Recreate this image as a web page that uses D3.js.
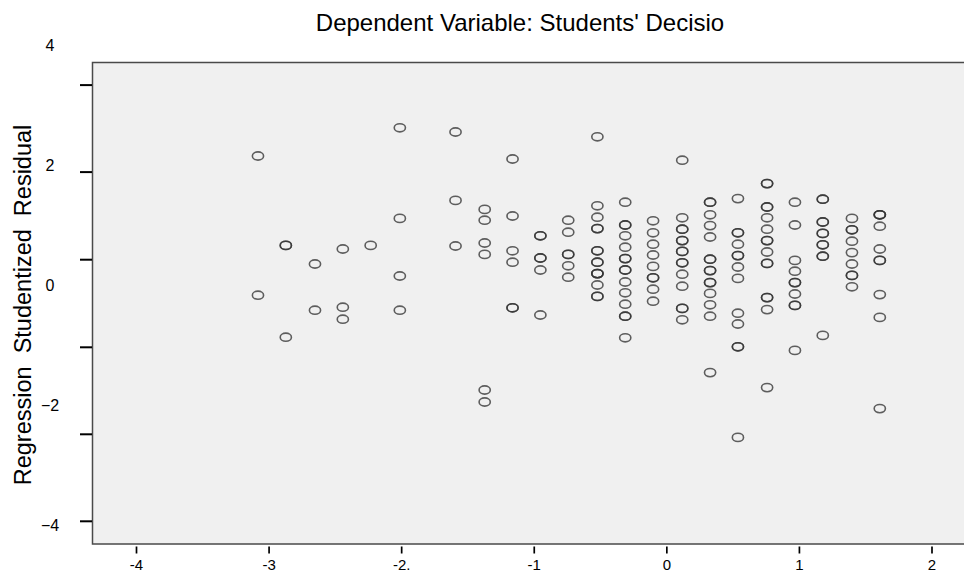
<!DOCTYPE html>
<html>
<head>
<meta charset="utf-8">
<script src="https://cdn.jsdelivr.net/npm/d3@7"></script>
<style>
  body { margin: 0; background: #fff; }
  text { font-family: "Liberation Sans", Arial, sans-serif; fill: #000; }
</style>
</head>
<body>
<div id="graph"></div>
<script>
// predicted value of each column of residuals (x)
const predicted = [-3.08, -2.87, -2.65, -2.44, -2.23, -2.01, -1.59, -1.37, -1.16, -0.95,
  -0.74, -0.52, -0.31, -0.10, 0.12, 0.33, 0.54, 0.76, 0.97, 1.18, 1.40, 1.61];

// studentized residuals per column (repeats = overlapping cases)
const residuals = [
  [2.15, -0.17],
  [0.66, 0.66, -0.87],
  [0.35, -0.42],
  [0.60, -0.37, -0.57],
  [0.66],
  [2.62, 1.11, 0.15, -0.42],
  [2.55, 1.41, 0.65],
  [1.26, 1.08, 0.70, 0.51, -1.75, -1.95],
  [2.10, 1.15, 0.57, 0.38, -0.38, -0.38],
  [0.82, 0.82, 0.45, 0.45, 0.25, -0.50],
  [1.08, 0.88, 0.51, 0.51, 0.32, 0.13],
  [2.47, 1.32, 1.13, 0.94, 0.94, 0.57, 0.57, 0.38, 0.38, 0.19, 0.19, 0.19, 0.00, -0.19, -0.19],
  [1.38, 1.00, 1.00, 0.82, 0.63, 0.44, 0.44, 0.25, 0.25, 0.05, -0.13, -0.32, -0.52, -0.52, -0.88],
  [1.07, 0.87, 0.68, 0.50, 0.31, 0.12, 0.12, -0.07, -0.27],
  [2.08, 1.12, 0.93, 0.93, 0.74, 0.74, 0.56, 0.56, 0.37, 0.37, 0.18, -0.02, -0.39, -0.39, -0.58],
  [1.38, 1.38, 1.17, 0.99, 0.80, 0.43, 0.43, 0.24, 0.24, 0.04, 0.04, -0.14, -0.33, -0.52, -1.46],
  [1.44, 0.87, 0.87, 0.68, 0.49, 0.49, 0.30, 0.11, -0.47, -0.65, -1.03, -1.03, -2.54],
  [1.69, 1.69, 1.30, 1.30, 1.12, 0.93, 0.74, 0.74, 0.55, 0.36, 0.36, -0.21, -0.21, -0.41, -1.71],
  [1.38, 1.00, 0.41, 0.23, 0.04, 0.04, -0.15, -0.34, -0.34, -1.09],
  [1.43, 1.43, 1.05, 1.05, 0.86, 0.86, 0.67, 0.67, 0.48, 0.48, -0.84],
  [1.11, 0.92, 0.92, 0.73, 0.54, 0.35, 0.16, 0.16, -0.03],
  [1.17, 1.17, 1.17, 0.98, 0.60, 0.41, 0.41, -0.16, -0.54, -2.06]
];

const xTicks = [-4, -3, -2, -1, 0, 1, 2];
const xTickLabels = ["-4", "-3", "-2.", "-1", "0", "1", "2"];
const yTicks = [4, 2, 0, -2, -4];
const yTickMarks = [3.34, 1.89, 0.43, -1.03, -2.48, -3.93];

const title = "Dependent Variable: Students' Decisio";
const yTitle = "Regression\u00a0 Studentized\u00a0 Residual";

// set the dimensions of the page and the plot panel
const W = 964, H = 575;
const panel = {left: 92.5, top: 62.5, bottom: 544};

const svg = d3.select("#graph")
  .append("svg")
    .attr("width", W)
    .attr("height", H);

svg.append("rect")
  .attr("width", W).attr("height", H)
  .attr("fill", "#fff");

// grey panel, open on the right side
svg.append("rect")
  .attr("x", panel.left)
  .attr("y", panel.top)
  .attr("width", W)
  .attr("height", panel.bottom - panel.top)
  .attr("fill", "#f0f0f0")
  .attr("stroke", "#4a4a4a")
  .attr("stroke-width", 1.5);

// scales
const x = d3.scaleLinear()
  .domain([-4, 2])
  .range([136, 931.5]);

const y = d3.scaleLinear()
  .domain([-4, 4])
  .range([525, 45]);

// X axis
const xAxis = svg.append("g")
  .attr("transform", `translate(0,${panel.bottom + 2.5})`)
  .call(d3.axisBottom(x)
    .tickValues(xTicks)
    .tickSize(7)
    .tickPadding(6)
    .tickFormat((d, i) => xTickLabels[i]));
xAxis.select(".domain").remove();
xAxis.selectAll("line").attr("stroke", "#000").attr("stroke-width", 1.7);
xAxis.selectAll("text").style("font-size", "15px").attr("font-family", null);

// Y axis tick marks
const yAxisMarks = svg.append("g")
  .attr("transform", `translate(${panel.left - 0.5},0)`)
  .call(d3.axisLeft(y)
    .tickValues(yTickMarks)
    .tickSize(12)
    .tickFormat(""));
yAxisMarks.select(".domain").remove();
yAxisMarks.selectAll("line").attr("stroke", "#000").attr("stroke-width", 2);

// Y axis labels
const yAxisLabels = svg.append("g")
  .attr("transform", "translate(50,0)")
  .call(d3.axisLeft(y)
    .tickValues(yTicks)
    .tickSize(0)
    .tickPadding(0)
    .tickFormat(d3.format("d")));
yAxisLabels.select(".domain").remove();
yAxisLabels.selectAll("text")
  .attr("text-anchor", "middle")
  .style("font-size", "16px")
  .attr("font-family", null);

// points
const points = [];
predicted.forEach(function(p, i) {
  residuals[i].forEach(function(r) {
    points.push({x: p, y: r});
  });
});

svg.append("g")
  .selectAll("ellipse")
  .data(points)
  .join("ellipse")
    .attr("cx", d => x(d.x))
    .attr("cy", d => y(d.y))
    .attr("rx", 5.6)
    .attr("ry", 4.1)
    .attr("fill", "none")
    .attr("stroke", "#333")
    .attr("stroke-opacity", 0.78)
    .attr("stroke-width", 1.6);

// titles
svg.append("text")
  .attr("x", 520)
  .attr("y", 31)
  .attr("text-anchor", "middle")
  .style("font-size", "24px")
  .text(title);

svg.append("text")
  .attr("transform", "translate(31,305) rotate(-90)")
  .attr("text-anchor", "middle")
  .style("font-size", "23.5px")
  .text(yTitle);
</script>
</body>
</html>
